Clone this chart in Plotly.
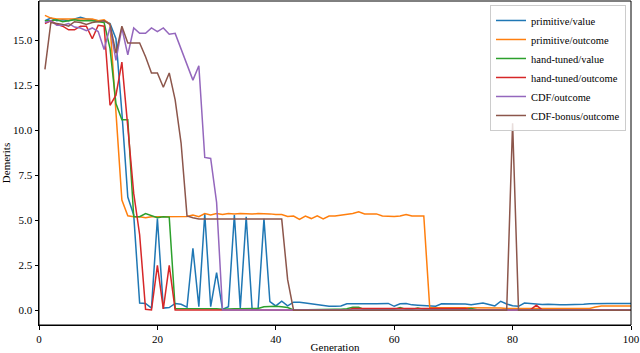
import plotly.graph_objects as go

generations = list(range(1, 101))

primitive_value = [
    16.10, 16.25, 16.10, 16.15, 16.10, 16.20, 16.30, 16.20, 16.15, 16.10,
    16.10, 15.95, 15.10, 11.00, 6.30, 5.30, 0.40, 0.38, 0.12, 5.10,
    0.12, 0.15, 0.38, 0.33, 0.17, 3.44, 0.20, 5.35, 0.20, 2.09,
    0.05, 0.20, 5.30, 0.12, 5.20, 0.05, 0.05, 5.08, 0.48, 0.24,
    0.50, 0.24, 0.45, 0.45, 0.40, 0.35, 0.33, 0.25, 0.22, 0.22,
    0.24, 0.36, 0.35, 0.35, 0.35, 0.36, 0.36, 0.38, 0.38, 0.22,
    0.36, 0.38, 0.30, 0.28, 0.25, 0.22, 0.22, 0.36, 0.36, 0.36,
    0.35, 0.35, 0.30, 0.35, 0.40, 0.32, 0.24, 0.50, 0.35, 0.25,
    0.22, 0.40, 0.36, 0.32, 0.32, 0.33, 0.30, 0.30, 0.30, 0.30,
    0.30, 0.33, 0.36, 0.38, 0.38, 0.38, 0.38, 0.38, 0.38, 0.38,
]

primitive_outcome = [
    16.40, 16.25, 16.20, 16.20, 16.20, 16.20, 16.20, 16.20, 16.20, 16.10,
    16.15, 15.90, 11.00, 6.13, 5.25, 5.20, 5.20, 5.15, 5.20, 5.20,
    5.20, 5.20, 5.20, 5.20, 5.22, 5.30, 5.20, 5.38, 5.30, 5.38,
    5.32, 5.38, 5.35, 5.38, 5.36, 5.35, 5.38, 5.38, 5.36, 5.32,
    5.32, 5.22, 5.24, 5.05, 5.24, 5.10, 5.25, 5.08, 5.24, 5.24,
    5.28, 5.30, 5.38, 5.48, 5.35, 5.36, 5.36, 5.24, 5.22, 5.22,
    5.24, 5.32, 5.24, 5.24, 5.24, 0.15, 0.15, 0.15, 0.14, 0.14,
    0.15, 0.15, 0.12, 0.14, 0.15, 0.15, 0.14, 0.12, 0.10, 0.10,
    0.12, 0.10, 0.10, 0.10, 0.10, 0.08, 0.08, 0.08, 0.10, 0.10,
    0.12, 0.10, 0.10, 0.18, 0.24, 0.24, 0.24, 0.24, 0.24, 0.24,
]

hand_tuned_value = [
    16.10, 16.10, 16.15, 16.05, 16.10, 16.15, 16.10, 16.10, 16.10, 16.05,
    16.00, 14.55, 11.50, 10.60, 10.60, 5.20, 5.20, 5.38, 5.25, 5.15,
    5.20, 5.18, 0.10, 0.10, 0.08, 0.12, 0.10, 0.08, 0.08, 0.08,
    0.05, 0.08, 0.08, 0.08, 0.08, 0.08, 0.10, 0.20, 0.22, 0.22,
    0.20, 0.15, 0.02, 0.03, 0.03, 0.03, 0.03, 0.05, 0.05, 0.05,
    0.05, 0.08, 0.17, 0.17, 0.03, 0.03, 0.05, 0.05, 0.05, 0.05,
    0.15, 0.05, 0.05, 0.12, 0.05, 0.05, 0.05, 0.05, 0.05, 0.05,
    0.05, 0.05, 0.10, 0.03, 0.03, 0.03, 0.03, 0.03, 0.03, 0.03,
    0.03, 0.03, 0.03, 0.03, 0.03, 0.03, 0.03, 0.03, 0.03, 0.03,
    0.03, 0.03, 0.03, 0.03, 0.03, 0.03, 0.03, 0.03, 0.03, 0.03,
]

hand_tuned_outcome = [
    15.95, 16.10, 15.90, 15.80, 15.60, 15.60, 15.80, 15.80, 15.10, 15.85,
    15.80, 11.40, 11.96, 13.80, 10.20, 6.50, 4.20, 0.05, 0.02, 2.50,
    0.08, 2.50, 0.02, 0.02, 0.02, 0.02, 0.02, 0.00, 0.00, 0.00,
    0.00, 0.00, 0.00, 0.00, 0.00, 0.00, 0.00, 0.00, 0.00, 0.00,
    0.00, 0.00, 0.00, 0.00, 0.00, 0.00, 0.00, 0.00, 0.00, 0.00,
    0.00, 0.00, 0.10, 0.10, 0.10, 0.10, 0.10, 0.10, 0.10, 0.10,
    0.10, 0.10, 0.10, 0.10, 0.10, 0.10, 0.10, 0.10, 0.10, 0.10,
    0.10, 0.10, 0.02, 0.02, 0.02, 0.02, 0.02, 0.02, 0.02, 0.02,
    0.02, 0.02, 0.02, 0.28, 0.02, 0.02, 0.02, 0.02, 0.02, 0.02,
    0.02, 0.02, 0.02, 0.02, 0.02, 0.02, 0.02, 0.02, 0.02, 0.02,
]

cdf_outcome = [
    16.00, 16.10, 15.85, 15.85, 15.95, 15.75, 15.70, 15.55, 15.70, 15.50,
    14.50, 15.75, 13.90, 15.70, 14.20, 15.70, 15.40, 15.40, 15.70, 15.50,
    15.70, 15.35, 15.40, 14.55, 13.70, 12.80, 13.60, 8.50, 8.44, 6.00,
    0.02, 0.02, 0.02, 0.02, 0.02, 0.02, 0.02, 0.02, 0.02, 0.02,
    0.02, 0.02, 0.02, 0.02, 0.02, 0.02, 0.02, 0.02, 0.02, 0.02,
    0.02, 0.02, 0.02, 0.02, 0.02, 0.02, 0.02, 0.02, 0.02, 0.02,
    0.02, 0.02, 0.02, 0.02, 0.02, 0.02, 0.02, 0.02, 0.02, 0.02,
    0.02, 0.06, 0.06, 0.06, 0.06, 0.06, 0.06, 0.06, 0.06, 0.06,
    0.02, 0.02, 0.02, 0.02, 0.02, 0.02, 0.02, 0.02, 0.02, 0.02,
    0.02, 0.02, 0.02, 0.02, 0.02, 0.02, 0.02, 0.02, 0.02, 0.02,
]

cdf_bonus_outcome = [
    13.40, 16.00, 15.95, 15.90, 15.80, 16.05, 16.00, 15.90, 16.00, 16.05,
    16.10, 15.90, 14.30, 15.80, 14.87, 14.87, 14.87, 14.10, 13.20, 13.20,
    12.40, 13.20, 11.70, 9.30, 5.25, 5.15, 5.08, 5.07, 5.07, 5.07,
    5.07, 5.07, 5.07, 5.07, 5.07, 5.07, 5.07, 5.07, 5.07, 5.07,
    5.07, 1.70, 0.00, 0.00, 0.00, 0.00, 0.00, 0.00, 0.00, 0.00,
    0.00, 0.00, 0.00, 0.00, 0.00, 0.00, 0.00, 0.00, 0.00, 0.00,
    0.00, 0.00, 0.00, 0.00, 0.00, 0.00, 0.00, 0.00, 0.00, 0.00,
    0.00, 0.00, 0.00, 0.00, 0.00, 0.00, 0.00, 0.00, 0.00, 10.40,
    0.00, 0.00, 0.00, 0.00, 0.00, 0.00, 0.00, 0.00, 0.00, 0.00,
    0.00, 0.00, 0.00, 0.00, 0.00, 0.00, 0.00, 0.00, 0.00, 0.00,
]

series = [
    ("primitive/value", primitive_value, "#1f77b4"),
    ("primitive/outcome", primitive_outcome, "#ff7f0e"),
    ("hand-tuned/value", hand_tuned_value, "#2ca02c"),
    ("hand-tuned/outcome", hand_tuned_outcome, "#d62728"),
    ("CDF/outcome", cdf_outcome, "#9467bd"),
    ("CDF-bonus/outcome", cdf_bonus_outcome, "#8c564b"),
]

fig = go.Figure()
for name, values, color in series:
    fig.add_trace(go.Scatter(x=generations, y=values, mode="lines", name=name,
                             line=dict(color=color, width=1.5)))

axis_style = dict(showline=True, linecolor="black", linewidth=1,
                  ticks="outside", ticklen=3.5, tickwidth=0.8, tickcolor="black",
                  showgrid=False, zeroline=False, automargin=False,
                  tickfont=dict(size=11, color="black"))

# full box around the plot area, like matplotlib spines
fig.add_shape(type="rect", xref="paper", yref="paper", x0=0, y0=0, x1=1, y1=1,
              line=dict(color="black", width=1), layer="above")

fig.update_layout(
    width=640, height=353,
    margin=dict(l=39, r=9, t=1, b=28),
    paper_bgcolor="white", plot_bgcolor="white",
    font=dict(family="Liberation Serif, Times New Roman, serif", size=11, color="black"),
    xaxis=dict(range=[0, 100], tickvals=[0, 20, 40, 60, 80, 100],
               title=dict(text="Generation", standoff=0, font=dict(size=11)),
               **axis_style),
    yaxis=dict(range=[-0.82, 17.2], tickvals=[0, 2.5, 5, 7.5, 10, 12.5, 15],
               tickformat=".1f",
               title=dict(text="Demerits", standoff=2, font=dict(size=11)),
               **axis_style),
    legend=dict(x=0.9916, y=0.9877, xanchor="right", yanchor="top",
                bgcolor="rgba(255,255,255,0.8)", bordercolor="#cccccc", borderwidth=1,
                font=dict(size=10.5), itemwidth=30),
    showlegend=True,
)

# page has a default 8px body margin; drop it so the figure sits at the corner
fig.write_html("out.html", config={"displayModeBar": False},
               post_script="document.body.style.margin = '0';")
